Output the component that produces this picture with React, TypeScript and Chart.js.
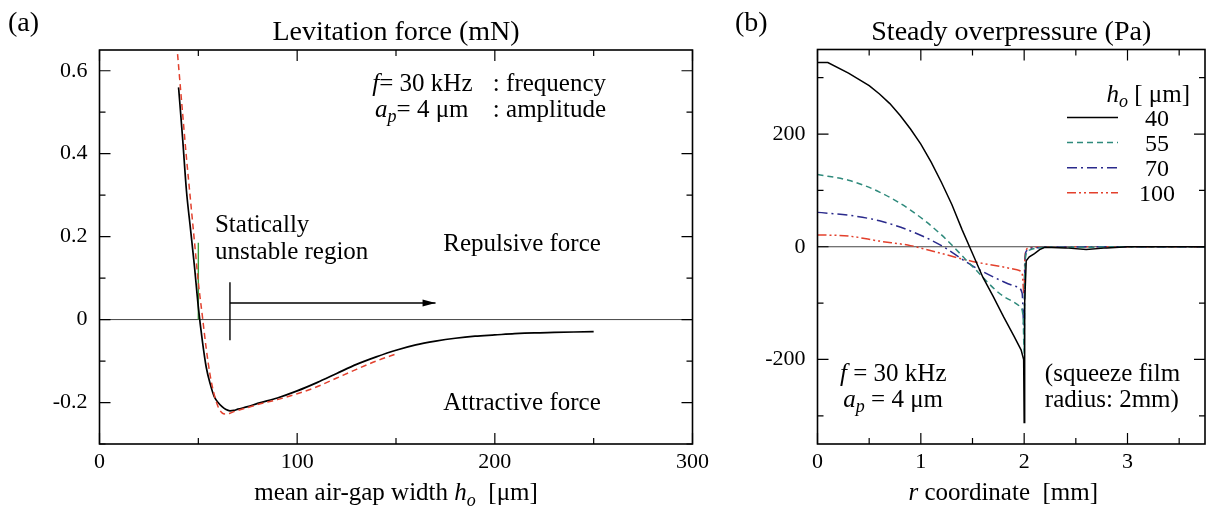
import React, { useEffect, useRef } from "react";
import { Chart, registerables } from "chart.js";
Chart.register(...registerables);

const FONT = '"Liberation Serif", "Times New Roman", serif';

// ---------- Panel (a): levitation force vs mean air-gap width ----------
const gapSim = [40, 42, 44, 46, 48, 50, 52, 54, 56, 58, 60, 62, 64, 66, 68, 70, 75, 80, 90, 100, 110, 120, 130, 140, 150, 160, 170, 180, 190, 200, 210, 220, 230, 240, 250];
const forceSim = [0.56, 0.44, 0.31, 0.22, 0.13, 0.03, -0.05, -0.115, -0.155, -0.185, -0.2, -0.21, -0.217, -0.22, -0.219, -0.216, -0.21, -0.202, -0.189, -0.172, -0.152, -0.13, -0.108, -0.09, -0.074, -0.061, -0.052, -0.045, -0.04, -0.037, -0.034, -0.032, -0.031, -0.03, -0.029];
const gapApprox = [39.5, 42, 44, 46, 48, 50, 52, 54, 56, 58, 60, 62, 64, 66, 68, 70, 75, 80, 90, 100, 110, 120, 130, 140, 150];
const forceApprox = [0.64, 0.5, 0.39, 0.29, 0.19, 0.09, 0.01, -0.07, -0.135, -0.18, -0.21, -0.225, -0.228, -0.226, -0.222, -0.219, -0.212, -0.205, -0.193, -0.179, -0.162, -0.141, -0.12, -0.1, -0.083];
const unstableGap = [50, 50];
const unstableForce = [0, 0.185];
const stableBarGap = [66, 66];
const stableBarForce = [-0.05, 0.09];
const arrowGap = [66, 170];
const arrowForce = [0.04, 0.04];

const aXTicks = [0, 100, 200, 300];
const aXTickLabels = ["0", "100", "200", "300"];
const aXMinor = [50, 150, 250];
const aYTicks = [-0.2, 0, 0.2, 0.4, 0.6];
const aYTickLabels = ["-0.2", "0", "0.2", "0.4", "0.6"];
const aYMinor = [-0.3, -0.1, 0.1, 0.3, 0.5];

// ---------- Panel (b): steady overpressure vs r ----------
const r40 = [0, 0.1, 0.3, 0.4, 0.5, 0.6, 0.7, 0.8, 0.9, 1.0, 1.1, 1.2, 1.3, 1.4, 1.5, 1.6, 1.7, 1.8, 1.9, 1.97, 1.995, 2.0, 2.005, 2.02, 2.05, 2.1, 2.15, 2.2, 2.4, 2.6, 2.8, 3.0, 3.75];
const p40 = [327, 327, 308, 297, 286, 271, 254, 233, 209, 182, 150, 114, 75, 30, -12, -54, -88, -124, -158, -183, -200, -312, -100, -25, -18, -12, -5, -1, -2, -5, -2, 0, 0];
const r55 = [0, 0.3, 0.6, 0.9, 1.2, 1.5, 1.8, 1.96, 1.99, 2.0, 2.005, 2.02, 2.05, 2.1, 2.2, 2.5, 3.0, 3.75];
const p55 = [128, 118, 97, 65, 21, -35, -88, -106, -125, -190, -60, -12, -6, -3, -1, -1, 0, 0];
const r70 = [0, 0.3, 0.6, 0.9, 1.2, 1.5, 1.8, 1.93, 1.98, 2.0, 2.005, 2.02, 2.1, 2.2, 3.0, 3.75];
const p70 = [61, 56, 46, 28, 2, -34, -62, -71, -82, -155, -50, -8, -2, -1, 0, 0];
const r100 = [0, 0.3, 0.6, 0.9, 1.2, 1.5, 1.8, 1.93, 1.98, 2.0, 2.005, 2.02, 2.05, 2.1, 3.0, 3.75];
const p100 = [21, 19, 10, 2, -12, -26, -36, -41, -48, -85, -30, -5, -2, -1, 0, 0];
const gapLabels = ["40", "55", "70", "100"];

const bXTicks = [0, 1, 2, 3];
const bXTickLabels = ["0", "1", "2", "3"];
const bXMinor = [0.5, 1.5, 2.5, 3.5];
const bYTicks = [-200, 0, 200];
const bYTickLabels = ["-200", "0", "200"];
const bYMinor = [-300, -100, 100, 300];

// ---------- helpers ----------
type Part = { t: string; i?: boolean; sub?: boolean };
const pts = (xs: number[], ys: number[]) => xs.map((x, k) => ({ x, y: ys[k] }));
const labelOf = (vals: number[], labels: string[]) => (v: any) => {
  const k = vals.findIndex((u) => Math.abs(u - Number(v)) < 1e-9);
  return k >= 0 ? labels[k] : "";
};

function rich(ctx: CanvasRenderingContext2D, parts: Part[], x: number, y: number, size: number, align: "left" | "center" | "right" = "left") {
  const fontOf = (p: Part) => `${p.i ? "italic " : ""}${p.sub ? Math.round(size * 0.7) : size}px ${FONT}`;
  let w = 0;
  for (const p of parts) {
    ctx.font = fontOf(p);
    w += ctx.measureText(p.t).width;
  }
  let cx = align === "left" ? x : align === "center" ? x - w / 2 : x - w;
  ctx.textAlign = "left";
  ctx.textBaseline = "alphabetic";
  ctx.fillStyle = "#000";
  for (const p of parts) {
    ctx.font = fontOf(p);
    ctx.fillText(p.t, cx, p.sub ? y + size * 0.22 : y);
    cx += ctx.measureText(p.t).width;
  }
}

function drawFrame(chart: any, xMajor: number[], xMinor: number[], yMajor: number[], yMinor: number[]) {
  const { ctx, chartArea: a, scales } = chart;
  const xs = scales.x, ys = scales.y;
  ctx.save();
  ctx.strokeStyle = "#000";
  ctx.lineWidth = 1.2;
  const xt = (vals: number[], len: number) => {
    for (const v of vals) {
      const px = xs.getPixelForValue(v);
      ctx.beginPath();
      ctx.moveTo(px, a.bottom);
      ctx.lineTo(px, a.bottom - len);
      ctx.moveTo(px, a.top);
      ctx.lineTo(px, a.top + len);
      ctx.stroke();
    }
  };
  const yt = (vals: number[], len: number) => {
    for (const v of vals) {
      const py = ys.getPixelForValue(v);
      ctx.beginPath();
      ctx.moveTo(a.left, py);
      ctx.lineTo(a.left + len, py);
      ctx.moveTo(a.right, py);
      ctx.lineTo(a.right - len, py);
      ctx.stroke();
    }
  };
  xt(xMajor, 11);
  xt(xMinor, 6);
  yt(yMajor, 11);
  yt(yMinor, 6);
  ctx.lineWidth = 1.6;
  ctx.strokeRect(a.left, a.top, a.right - a.left, a.bottom - a.top);
  ctx.restore();
}

function zeroLine(chart: any) {
  const { ctx, chartArea: a, scales } = chart;
  const py = scales.y.getPixelForValue(0);
  ctx.save();
  ctx.strokeStyle = "#444";
  ctx.lineWidth = 1;
  ctx.beginPath();
  ctx.moveTo(a.left, py);
  ctx.lineTo(a.right, py);
  ctx.stroke();
  ctx.restore();
}

const baseScale = (min: number, max: number, ticks: number[], labels: string[], isY: boolean, size: number) => ({
  type: "linear",
  min,
  max,
  grid: { display: false, drawTicks: false },
  border: { display: false },
  ticks: {
    color: "#000",
    font: { family: FONT, size: 22 },
    padding: isY ? 12 : 5,
    autoSkip: false,
    maxRotation: 0,
    callback: labelOf(ticks, labels),
  },
  afterBuildTicks: (s: any) => {
    s.ticks = ticks.map((v) => ({ value: v }));
  },
  afterFit: (s: any) => {
    if (isY) s.width = size;
    else s.height = size;
  },
});

function PanelA() {
  const ref = useRef<HTMLCanvasElement>(null);
  useEffect(() => {
    const plugin = {
      id: "panelA",
      beforeDatasetsDraw: (chart: any) => zeroLine(chart),
      afterDatasetsDraw: (chart: any) => {
        const { ctx, chartArea: a, scales } = chart;
        const X = (v: number) => scales.x.getPixelForValue(v);
        const Y = (v: number) => scales.y.getPixelForValue(v);
        drawFrame(chart, aXTicks, aXMinor, aYTicks, aYMinor);
        // arrow head
        ctx.save();
        ctx.fillStyle = "#000";
        const tx = X(arrowGap[1]), ty = Y(arrowForce[1]);
        ctx.beginPath();
        ctx.moveTo(tx, ty);
        ctx.lineTo(tx - 13, ty - 3.5);
        ctx.lineTo(tx - 13, ty + 3.5);
        ctx.closePath();
        ctx.fill();
        ctx.restore();
        // texts
        rich(ctx, [{ t: "(a)" }], 8, 31, 28);
        rich(ctx, [{ t: "Levitation force (mN)" }], (a.left + a.right) / 2, a.top - 10, 28, "center");
        rich(ctx, [{ t: "f", i: true }, { t: "= 30 kHz" }], X(138), Y(0.551), 25);
        rich(ctx, [{ t: ": frequency" }], X(199), Y(0.551), 25);
        rich(ctx, [{ t: "a", i: true }, { t: "p", i: true, sub: true }, { t: "= 4 μm" }], X(139.4), Y(0.4885), 25);
        rich(ctx, [{ t: ": amplitude" }], X(199), Y(0.4885), 25);
        rich(ctx, [{ t: "Statically" }], X(58.4), Y(0.211), 25);
        rich(ctx, [{ t: "unstable region" }], X(58.4), Y(0.145), 25);
        rich(ctx, [{ t: "Repulsive force" }], X(173.9), Y(0.165), 25);
        rich(ctx, [{ t: "Attractive force" }], X(173.9), Y(-0.218), 25);
        rich(ctx, [{ t: "mean air-gap width " }, { t: "h", i: true }, { t: "o", i: true, sub: true }, { t: "  [μm]" }], (a.left + a.right) / 2, a.bottom + 56, 25, "center");
      },
    };
    const chart = new Chart(ref.current!, {
      type: "line",
      data: {
        datasets: [
          { data: pts(gapApprox, forceApprox), borderColor: "#e2412e", borderDash: [6, 4], borderWidth: 1.5, pointRadius: 0, cubicInterpolationMode: "monotone" },
          { data: pts(gapSim, forceSim), borderColor: "#000", borderWidth: 1.7, pointRadius: 0, cubicInterpolationMode: "monotone" },
          { data: pts(unstableGap, unstableForce), borderColor: "#3a9a3a", borderWidth: 1.4, pointRadius: 0 },
          { data: pts(stableBarGap, stableBarForce), borderColor: "#000", borderWidth: 1.4, pointRadius: 0 },
          { data: pts(arrowGap, arrowForce), borderColor: "#000", borderWidth: 1.4, pointRadius: 0 },
        ],
      } as any,
      options: {
        animation: false,
        responsive: false,
        devicePixelRatio: 1,
        layout: { padding: { left: 0, right: 27.5, top: 50, bottom: 0 } },
        plugins: { legend: { display: false }, tooltip: { enabled: false } },
        scales: {
          x: baseScale(0, 300, aXTicks, aXTickLabels, false, 71),
          y: baseScale(-0.3, 0.65, aYTicks, aYTickLabels, true, 99.5),
        },
      } as any,
      plugins: [plugin],
    });
    return () => chart.destroy();
  }, []);
  return <canvas ref={ref} width={720} height={515} style={{ position: "absolute", left: 0, top: 0 }} />;
}

function PanelB() {
  const ref = useRef<HTMLCanvasElement>(null);
  useEffect(() => {
    const plugin = {
      id: "panelB",
      beforeDatasetsDraw: (chart: any) => zeroLine(chart),
      afterDatasetsDraw: (chart: any) => {
        const { ctx, chartArea: a, scales } = chart;
        const X = (v: number) => scales.x.getPixelForValue(v);
        const Y = (v: number) => scales.y.getPixelForValue(v);
        drawFrame(chart, bXTicks, bXMinor, bYTicks, bYMinor);
        rich(ctx, [{ t: "(b)" }], 15, 31, 28);
        rich(ctx, [{ t: "Steady overpressure (Pa)" }], (a.left + a.right) / 2, a.top - 10, 28, "center");
        rich(ctx, [{ t: "f", i: true }, { t: " = 30 kHz" }], X(0.218), Y(-239), 25);
        rich(ctx, [{ t: "a", i: true }, { t: "p", i: true, sub: true }, { t: " = 4 μm" }], X(0.25), Y(-284), 25);
        rich(ctx, [{ t: "(squeeze film" }], X(2.2), Y(-239), 25);
        rich(ctx, [{ t: "radius: 2mm)" }], X(2.2), Y(-284), 25);
        rich(ctx, [{ t: "r", i: true }, { t: " coordinate  [mm]" }], (a.left + a.right) / 2 - 8, a.bottom + 56, 25, "center");
        // legend
        rich(ctx, [{ t: "h", i: true }, { t: "o", i: true, sub: true }, { t: " [ μm]" }], a.right - 15, a.top + 52, 25, "right");
        chart.data.datasets.forEach((ds: any, k: number) => {
          const y = a.top + 68 + k * 25.1;
          ctx.save();
          ctx.strokeStyle = ds.borderColor;
          ctx.lineWidth = ds.borderWidth;
          ctx.setLineDash(ds.borderDash || []);
          ctx.beginPath();
          ctx.moveTo(a.right - 138, y);
          ctx.lineTo(a.right - 87, y);
          ctx.stroke();
          ctx.restore();
          rich(ctx, [{ t: gapLabels[k] }], a.right - 48, y + 8, 24, "center");
        });
      },
    };
    const chart = new Chart(ref.current!, {
      type: "line",
      data: {
        datasets: [
          { data: pts(r40, p40), borderColor: "#000", borderWidth: 1.5, pointRadius: 0, tension: 0 },
          { data: pts(r55, p55), borderColor: "#2f8a7c", borderDash: [6, 4], borderWidth: 1.5, pointRadius: 0, cubicInterpolationMode: "monotone" },
          { data: pts(r70, p70), borderColor: "#2a2a8c", borderDash: [10, 4, 2, 4], borderWidth: 1.5, pointRadius: 0, cubicInterpolationMode: "monotone" },
          { data: pts(r100, p100), borderColor: "#e3402c", borderDash: [9, 3, 2, 3, 2, 3], borderWidth: 1.5, pointRadius: 0, cubicInterpolationMode: "monotone" },
        ],
      } as any,
      options: {
        animation: false,
        responsive: false,
        devicePixelRatio: 1,
        layout: { padding: { left: 0, right: 1, top: 49.5, bottom: 0 } },
        plugins: { legend: { display: false }, tooltip: { enabled: false } },
        scales: {
          x: baseScale(0, 3.75, bXTicks, bXTickLabels, false, 71),
          y: baseScale(-350, 350, bYTicks, bYTickLabels, true, 97.5),
        },
      } as any,
      plugins: [plugin],
    });
    return () => chart.destroy();
  }, []);
  return <canvas ref={ref} width={486} height={515} style={{ position: "absolute", left: 720, top: 0 }} />;
}

export default function App() {
  return (
    <div style={{ position: "fixed", left: 0, top: 0, width: 1206, height: 515, background: "#fff", overflow: "hidden" }}>
      <PanelA />
      <PanelB />
    </div>
  );
}
